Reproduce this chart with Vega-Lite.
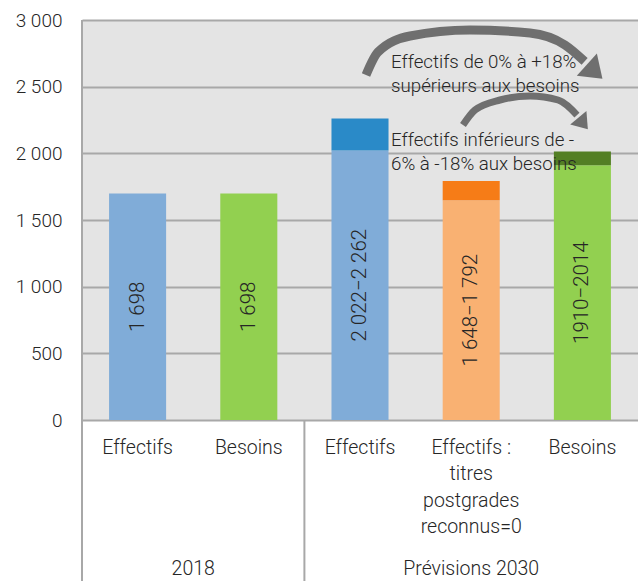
{
  "$schema": "https://vega.github.io/schema/vega-lite/v6.json",
  "width": 556,
  "height": 400,
  "autosize": {"type": "none"},
  "padding": {"left": 82, "top": 20, "right": 0, "bottom": 161},
  "background": "white",
  "config": {
    "view": {"fill": "#e4e4e4", "stroke": null},
    "scale": {"bandPaddingInner": 0, "bandPaddingOuter": 0},
    "text": {"font": "Roboto", "fontWeight": 300, "fontSize": 19.5, "color": "#262626"},
    "axis": {"labelFont": "Roboto", "labelFontWeight": 300}
  },
  "datasets": {
    "bars": [
      {"cat": "E2018", "seg": "eff", "from": 0, "to": 1698},
      {"cat": "B2018", "seg": "bes", "from": 0, "to": 1698},
      {"cat": "E2030", "seg": "eff", "from": 0, "to": 2022},
      {"cat": "E2030", "seg": "eff_hi", "from": 2022, "to": 2262},
      {"cat": "T2030", "seg": "tit", "from": 0, "to": 1648},
      {"cat": "T2030", "seg": "tit_hi", "from": 1648, "to": 1792},
      {"cat": "B2030", "seg": "bes", "from": 0, "to": 1910},
      {"cat": "B2030", "seg": "bes_hi", "from": 1910, "to": 2014}
    ],
    "barlabels": [
      {"cat": "E2018", "base": 1698, "label": "1 698"},
      {"cat": "B2018", "base": 1698, "label": "1 698"},
      {"cat": "E2030", "base": 2022, "label": "2 022−2 262"},
      {"cat": "T2030", "base": 1648, "label": "1 648−1 792"},
      {"cat": "B2030", "base": 1910, "label": "1910−2014"}
    ],
    "catlabels": [
      {"cat": "E2018", "label": "Effectifs", "y": -142},
      {"cat": "B2018", "label": "Besoins", "y": -142},
      {"cat": "E2030", "label": "Effectifs", "y": -142},
      {"cat": "T2030", "label": "Effectifs :\ntitres\npostgrades\nreconnus=0", "y": -142},
      {"cat": "B2030", "label": "Besoins", "y": -142}
    ],
    "grouplabels": [
      {"x": 1.0, "label": "2018", "y": -1050},
      {"x": 3.5, "label": "Prévisions 2030", "y": -1050}
    ],
    "dividers": [
      {"cat": "E2018", "top": 3000, "bottom": -1215},
      {"cat": "E2030", "top": 0, "bottom": -1215}
    ],
    "arrows": [
      {"arrow": "a1", "i": 1, "x": 2.554, "y": 2588},
      {"arrow": "a1", "i": 2, "x": 2.662, "y": 2760},
      {"arrow": "a1", "i": 3, "x": 2.95, "y": 2880},
      {"arrow": "a1", "i": 4, "x": 3.489, "y": 2925},
      {"arrow": "a1", "i": 5, "x": 4.029, "y": 2903},
      {"arrow": "a1", "i": 6, "x": 4.343, "y": 2813},
      {"arrow": "a1", "i": 7, "x": 4.52, "y": 2690},
      {"arrow": "a2", "i": 1, "x": 3.426, "y": 2213},
      {"arrow": "a2", "i": 2, "x": 3.534, "y": 2325},
      {"arrow": "a2", "i": 3, "x": 3.759, "y": 2400},
      {"arrow": "a2", "i": 4, "x": 4.029, "y": 2430},
      {"arrow": "a2", "i": 5, "x": 4.281, "y": 2400},
      {"arrow": "a2", "i": 6, "x": 4.451, "y": 2287}
    ],
    "heads": [
      {"arrow": "a1", "x": 4.6, "y": 2620},
      {"arrow": "a2", "x": 4.5, "y": 2230}
    ],
    "notes": [
      {"x": 2.779, "y": 2752, "text": "Effectifs de 0% à +18%\nsupérieurs aux besoins"},
      {"x": 2.779, "y": 2167, "text": "Effectifs inférieurs de -\n6% à -18% aux besoins"}
    ]
  },
  "resolve": {"scale": {"x": "independent", "y": "independent", "color": "independent", "size": "independent", "strokeWidth": "independent"}},
  "layer": [
    {
      "data": {"name": "bars"},
      "mark": {"type": "bar", "width": {"band": 0.513}},
      "encoding": {
        "x": {"field": "cat", "type": "nominal", "sort": null, "scale": {"domain": ["E2018", "B2018", "E2030", "T2030", "B2030"]}, "axis": null},
        "y": {
          "field": "from", "type": "quantitative",
          "scale": {"domain": [0, 3000], "nice": false},
          "axis": {
            "values": [0, 500, 1000, 1500, 2000, 2500, 3000],
            "grid": true, "gridColor": "#a8a8a8", "gridWidth": 2,
            "domain": false, "ticks": false,
            "labelFontSize": 19, "labelColor": "#262626", "labelPadding": 20,
            "labelExpr": "replace(format(datum.value, ','), ',', ' ')",
            "title": null
          }
        },
        "y2": {"field": "to"},
        "color": {
          "field": "seg", "type": "nominal", "legend": null,
          "scale": {"domain": ["eff", "eff_hi", "bes", "bes_hi", "tit", "tit_hi"], "range": ["#80acd8", "#2a8ac8", "#92d050", "#537f24", "#f9b172", "#f67c17"]}
        }
      }
    },
    {
      "data": {"name": "barlabels"},
      "mark": {"type": "text", "angle": 270, "align": "center", "baseline": "middle", "fontSize": 20.5},
      "encoding": {
        "x": {"field": "cat", "type": "nominal", "sort": null, "scale": {"domain": ["E2018", "B2018", "E2030", "T2030", "B2030"]}, "axis": null},
        "y": {"field": "base", "type": "quantitative", "scale": {"domain": [0, 6000], "nice": false}, "axis": null},
        "text": {"field": "label"}
      }
    },
    {
      "data": {"name": "catlabels"},
      "mark": {"type": "text", "align": "center", "baseline": "top", "lineBreak": "\n", "lineHeight": 26.5},
      "encoding": {
        "x": {"field": "cat", "type": "nominal", "sort": null, "scale": {"domain": ["E2018", "B2018", "E2030", "T2030", "B2030"]}, "axis": null},
        "y": {"field": "y", "type": "quantitative", "scale": {"domain": [0, 3000], "nice": false}, "axis": null},
        "text": {"field": "label"}
      }
    },
    {
      "data": {"name": "grouplabels"},
      "mark": {"type": "text", "align": "center", "baseline": "top"},
      "encoding": {
        "x": {"field": "x", "type": "quantitative", "scale": {"domain": [0, 5], "nice": false, "zero": false}, "axis": null},
        "y": {"field": "y", "type": "quantitative", "scale": {"domain": [0, 3000], "nice": false}, "axis": null},
        "text": {"field": "label"}
      }
    },
    {
      "data": {"name": "dividers"},
      "mark": {"type": "rule", "color": "#a8a8a8", "strokeWidth": 2},
      "encoding": {
        "x": {"field": "cat", "type": "nominal", "bandPosition": 0, "scale": {"domain": ["E2018", "B2018", "E2030", "T2030", "B2030"]}, "axis": null},
        "y": {"field": "top", "type": "quantitative", "scale": {"domain": [0, 3000], "nice": false}, "axis": null},
        "y2": {"field": "bottom"}
      }
    },
    {
      "data": {"name": "arrows"},
      "mark": {"type": "line", "color": "#6f6f6f", "interpolate": "monotone", "strokeCap": "butt"},
      "encoding": {
        "x": {"field": "x", "type": "quantitative", "scale": {"domain": [0, 5], "nice": false, "zero": false}, "axis": null},
        "y": {"field": "y", "type": "quantitative", "scale": {"domain": [0, 3000], "nice": false}, "axis": null},
        "detail": {"field": "arrow"},
        "order": {"field": "i"},
        "strokeWidth": {"field": "arrow", "type": "nominal", "legend": null, "scale": {"domain": ["a1", "a2"], "range": [9, 7]}}
      }
    },
    {
      "data": {"name": "heads"},
      "transform": [{"filter": "datum.arrow === 'a1'"}],
      "mark": {"type": "point", "filled": true, "color": "#6f6f6f", "opacity": 1, "shape": "M -0.6 -1 L 0.8 0 L -0.6 1 Z", "size": 900, "angle": 42},
      "encoding": {
        "x": {"field": "x", "type": "quantitative", "scale": {"domain": [0, 5], "nice": false, "zero": false}, "axis": null},
        "y": {"field": "y", "type": "quantitative", "scale": {"domain": [0, 3000], "nice": false}, "axis": null}
      }
    },
    {
      "data": {"name": "heads"},
      "transform": [{"filter": "datum.arrow === 'a2'"}],
      "mark": {"type": "point", "filled": true, "color": "#6f6f6f", "opacity": 1, "shape": "M -0.6 -1 L 0.8 0 L -0.6 1 Z", "size": 450, "angle": 50},
      "encoding": {
        "x": {"field": "x", "type": "quantitative", "scale": {"domain": [0, 5], "nice": false, "zero": false}, "axis": null},
        "y": {"field": "y", "type": "quantitative", "scale": {"domain": [0, 3000], "nice": false}, "axis": null}
      }
    },
    {
      "data": {"name": "notes"},
      "mark": {"type": "text", "align": "left", "baseline": "top", "lineBreak": "\n", "lineHeight": 24, "fontSize": 18.7},
      "encoding": {
        "x": {"field": "x", "type": "quantitative", "scale": {"domain": [0, 5], "nice": false, "zero": false}, "axis": null},
        "y": {"field": "y", "type": "quantitative", "scale": {"domain": [0, 3000], "nice": false}, "axis": null},
        "text": {"field": "text"}
      }
    }
  ]
}
